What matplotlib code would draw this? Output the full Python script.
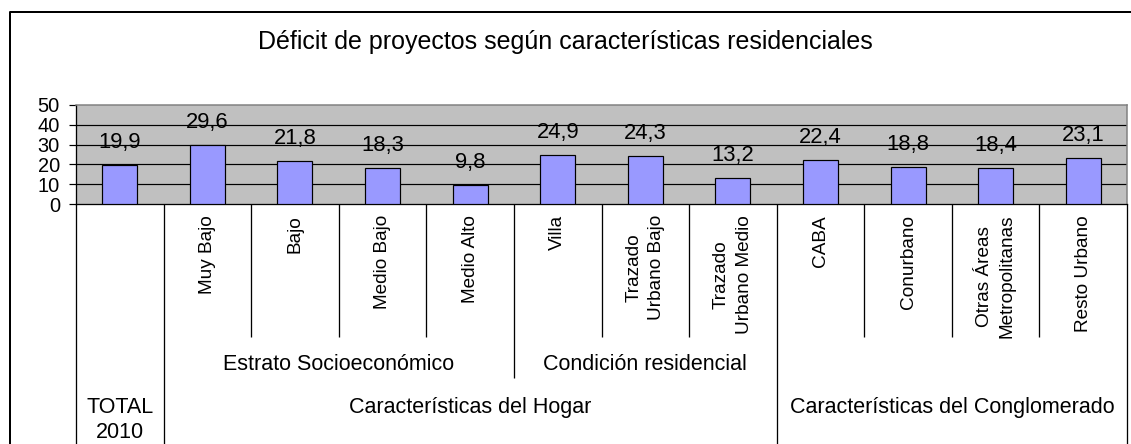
import matplotlib.pyplot as plt
import matplotlib.transforms as mtransforms

plt.rcParams['font.family'] = ['Liberation Sans', 'DejaVu Sans']

# datos
categorias = ['', 'Muy Bajo', 'Bajo', 'Medio Bajo', 'Medio Alto', 'Villa',
              'Trazado\nUrbano Bajo', 'Trazado\nUrbano Medio', 'CABA', 'Conurbano',
              'Otras Áreas\nMetropolitanas', 'Resto Urbano']
valores = [19.9, 29.6, 21.8, 18.3, 9.8, 24.9, 24.3, 13.2, 22.4, 18.8, 18.4, 23.1]
# (texto, primera categoria, ultima categoria)
grupos_nivel2 = [('Estrato Socioeconómico', 1, 4), ('Condición residencial', 5, 7)]
grupos_nivel3 = [('TOTAL\n2010', 0, 0), ('Características del Hogar', 1, 7),
                 ('Características del Conglomerado', 8, 11)]
yticks = [0, 10, 20, 30, 40, 50]
titulo = 'Déficit de proyectos según características residenciales'

W, H = 1131, 444
fig = plt.figure(figsize=(W / 72, H / 72), dpi=72)

# capa en pixeles para marco, tabla del eje y textos
px = fig.add_axes([0, 0, 1, 1])
px.set_xlim(0, W)
px.set_ylim(H, 0)
px.axis('off')

# area del grafico: x 76..1127, y 105..204 (px)
left, right, top, bottom = 76, 1127, 105, 204
ax = fig.add_axes([left / W, (H - bottom) / H, (right - left) / W, (bottom - top) / H])
ax.set_facecolor('#C0C0C0')
n = len(valores)
x = list(range(n))
ax.bar(x, valores, width=0.4, color='#9999FF', edgecolor='black', linewidth=1.2, zorder=3)
ax.set_xlim(-0.5, n - 0.5)
ax.set_ylim(0, 50)
ax.set_yticks(yticks)
ax.set_yticklabels([str(t) for t in yticks], fontsize=20)
ax.tick_params(axis='y', direction='out', length=7, width=1.2, pad=9)
ax.set_xticks([])
for t in yticks[1:-1]:
    ax.axhline(t, color='black', linewidth=1.2, zorder=1)
for s in ['top', 'right']:
    ax.spines[s].set_color('#808080')
    ax.spines[s].set_linewidth(1.5)
for s in ['left', 'bottom']:
    ax.spines[s].set_color('black')
    ax.spines[s].set_linewidth(1.3)

for xi, v in zip(x, valores):
    ax.annotate(f'{v:.1f}'.replace('.', ','), (xi, v), xytext=(0, 17),
                textcoords='offset points', ha='center', va='baseline', fontsize=22)

# x en datos de ax, y en pixeles de la capa
tr = mtransforms.blended_transform_factory(ax.transData, px.transData)

# limites de grupos
lim3 = set()
for _, a, b in grupos_nivel3:
    lim3.update([a - 0.5, b + 0.5])
lim2 = set()
for _, a, b in grupos_nivel2:
    lim2.update([a - 0.5, b + 0.5])
for i in range(n + 1):
    b = i - 0.5
    if b in lim3:
        y_end = H + 5
    elif b in lim2:
        y_end = 378
    else:
        y_end = 337
    px.plot([b, b], [bottom, y_end], color='black', linewidth=1.3, transform=tr,
            clip_on=False, solid_capstyle='butt')

for xi, c in zip(x, categorias):
    px.text(xi, 215, c, transform=tr, rotation=90, ha='center', va='top',
            multialignment='center', fontsize=19, linespacing=1.45)

for t, a, b in grupos_nivel2:
    px.text((a + b) / 2, 364, t, transform=tr, ha='center', va='center', fontsize=21.5)
for t, a, b in grupos_nivel3:
    px.text((a + b) / 2, 420 if '\n' in t else 408, t, transform=tr, ha='center',
            va='center', fontsize=21.5, linespacing=1.25)

# marco del area del grafico
px.plot([10, 10, W + 5], [H + 5, 12, 12], color='black', linewidth=2, clip_on=False)

px.text(565, 42, titulo, ha='center', va='center', fontsize=25)

fig.savefig('out.png', dpi=72)
